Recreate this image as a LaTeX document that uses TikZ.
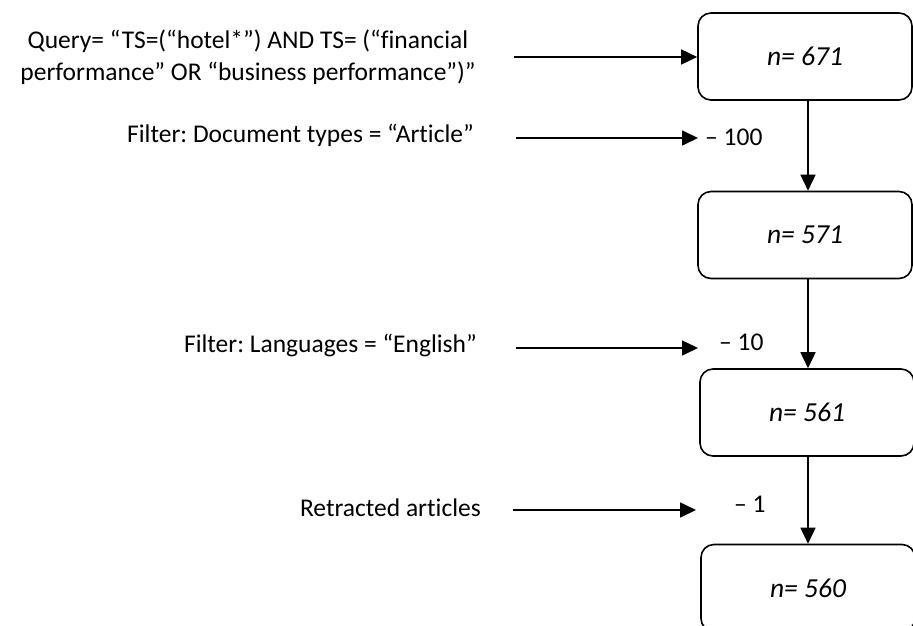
\documentclass[tikz,border=0pt]{standalone}
\usepackage{fontspec}
\setmainfont{Carlito}[Ligatures=NoCommon]
\usetikzlibrary{arrows.meta}
\frenchspacing
\begin{document}
\begin{tikzpicture}[x=1pt,y=-1pt,
  every node/.style={font=\fontsize{25.5}{32}\selectfont, inner sep=0pt},
  box/.style={draw, line width=1.6pt, rounded corners=13pt, minimum width=214pt, minimum height=87pt, font=\fontsize{27.5}{32}\selectfont\itshape},
  lbl/.style={anchor=base east},
  cnt/.style={anchor=base west},
  arr/.style={line width=1.6pt, -{Triangle[length=16pt,width=15pt]}}]
\useasboundingbox (0,0) rectangle (913,625);
% boxes
\node[box] (b1) at (805,56.5) {n= 671};
\node[box] (b2) at (805,235) {n= 571};
\node[box] (b3) at (807,412.5) {n= 561};
\node[box] (b4) at (808,588) {n= 560};
% column for vertical arrows
\coordinate (ax) at (808,0);
\draw[arr] (b1.south -| ax) -- (b2.north -| ax);
\draw[arr] (b2.south -| ax) -- (b3.north -| ax);
\draw[arr] (b3.south -| ax) -- (b4.north -| ax);
% left labels
\node[align=center, anchor=base] (q) at (248,80) {Query= “TS=(“hotel*”) AND TS= (“financial\\performance” OR “business performance”)”};
\node[lbl] (f1) at (474,142) {Filter: Document types = “Article”};
\node[lbl] (f2) at (477,352) {Filter: Languages = “English”};
\node[lbl] (f3) at (481,516) {Retracted articles};
% arrow starts and ends
\coordinate (s1) at (514,57);
\coordinate (s2) at (516,138);
\coordinate (e2) at (698,138);
\coordinate (s3) at (516,348);
\coordinate (e3) at (698,348);
\coordinate (s4) at (513,510);
\coordinate (e4) at (696,510);
\draw[arr] (s1) -- (s1 -| b1.west);
\draw[arr] (s2) -- (e2);
\draw[arr] (s3) -- (e3);
\draw[arr] (s4) -- (e4);
% counts
\node[cnt] (c1) at (705,145) {– 100};
\node[cnt] (c2) at (719,350) {– 10};
\node[cnt] (c3) at (734,512) {– 1};
\end{tikzpicture}
\end{document}
